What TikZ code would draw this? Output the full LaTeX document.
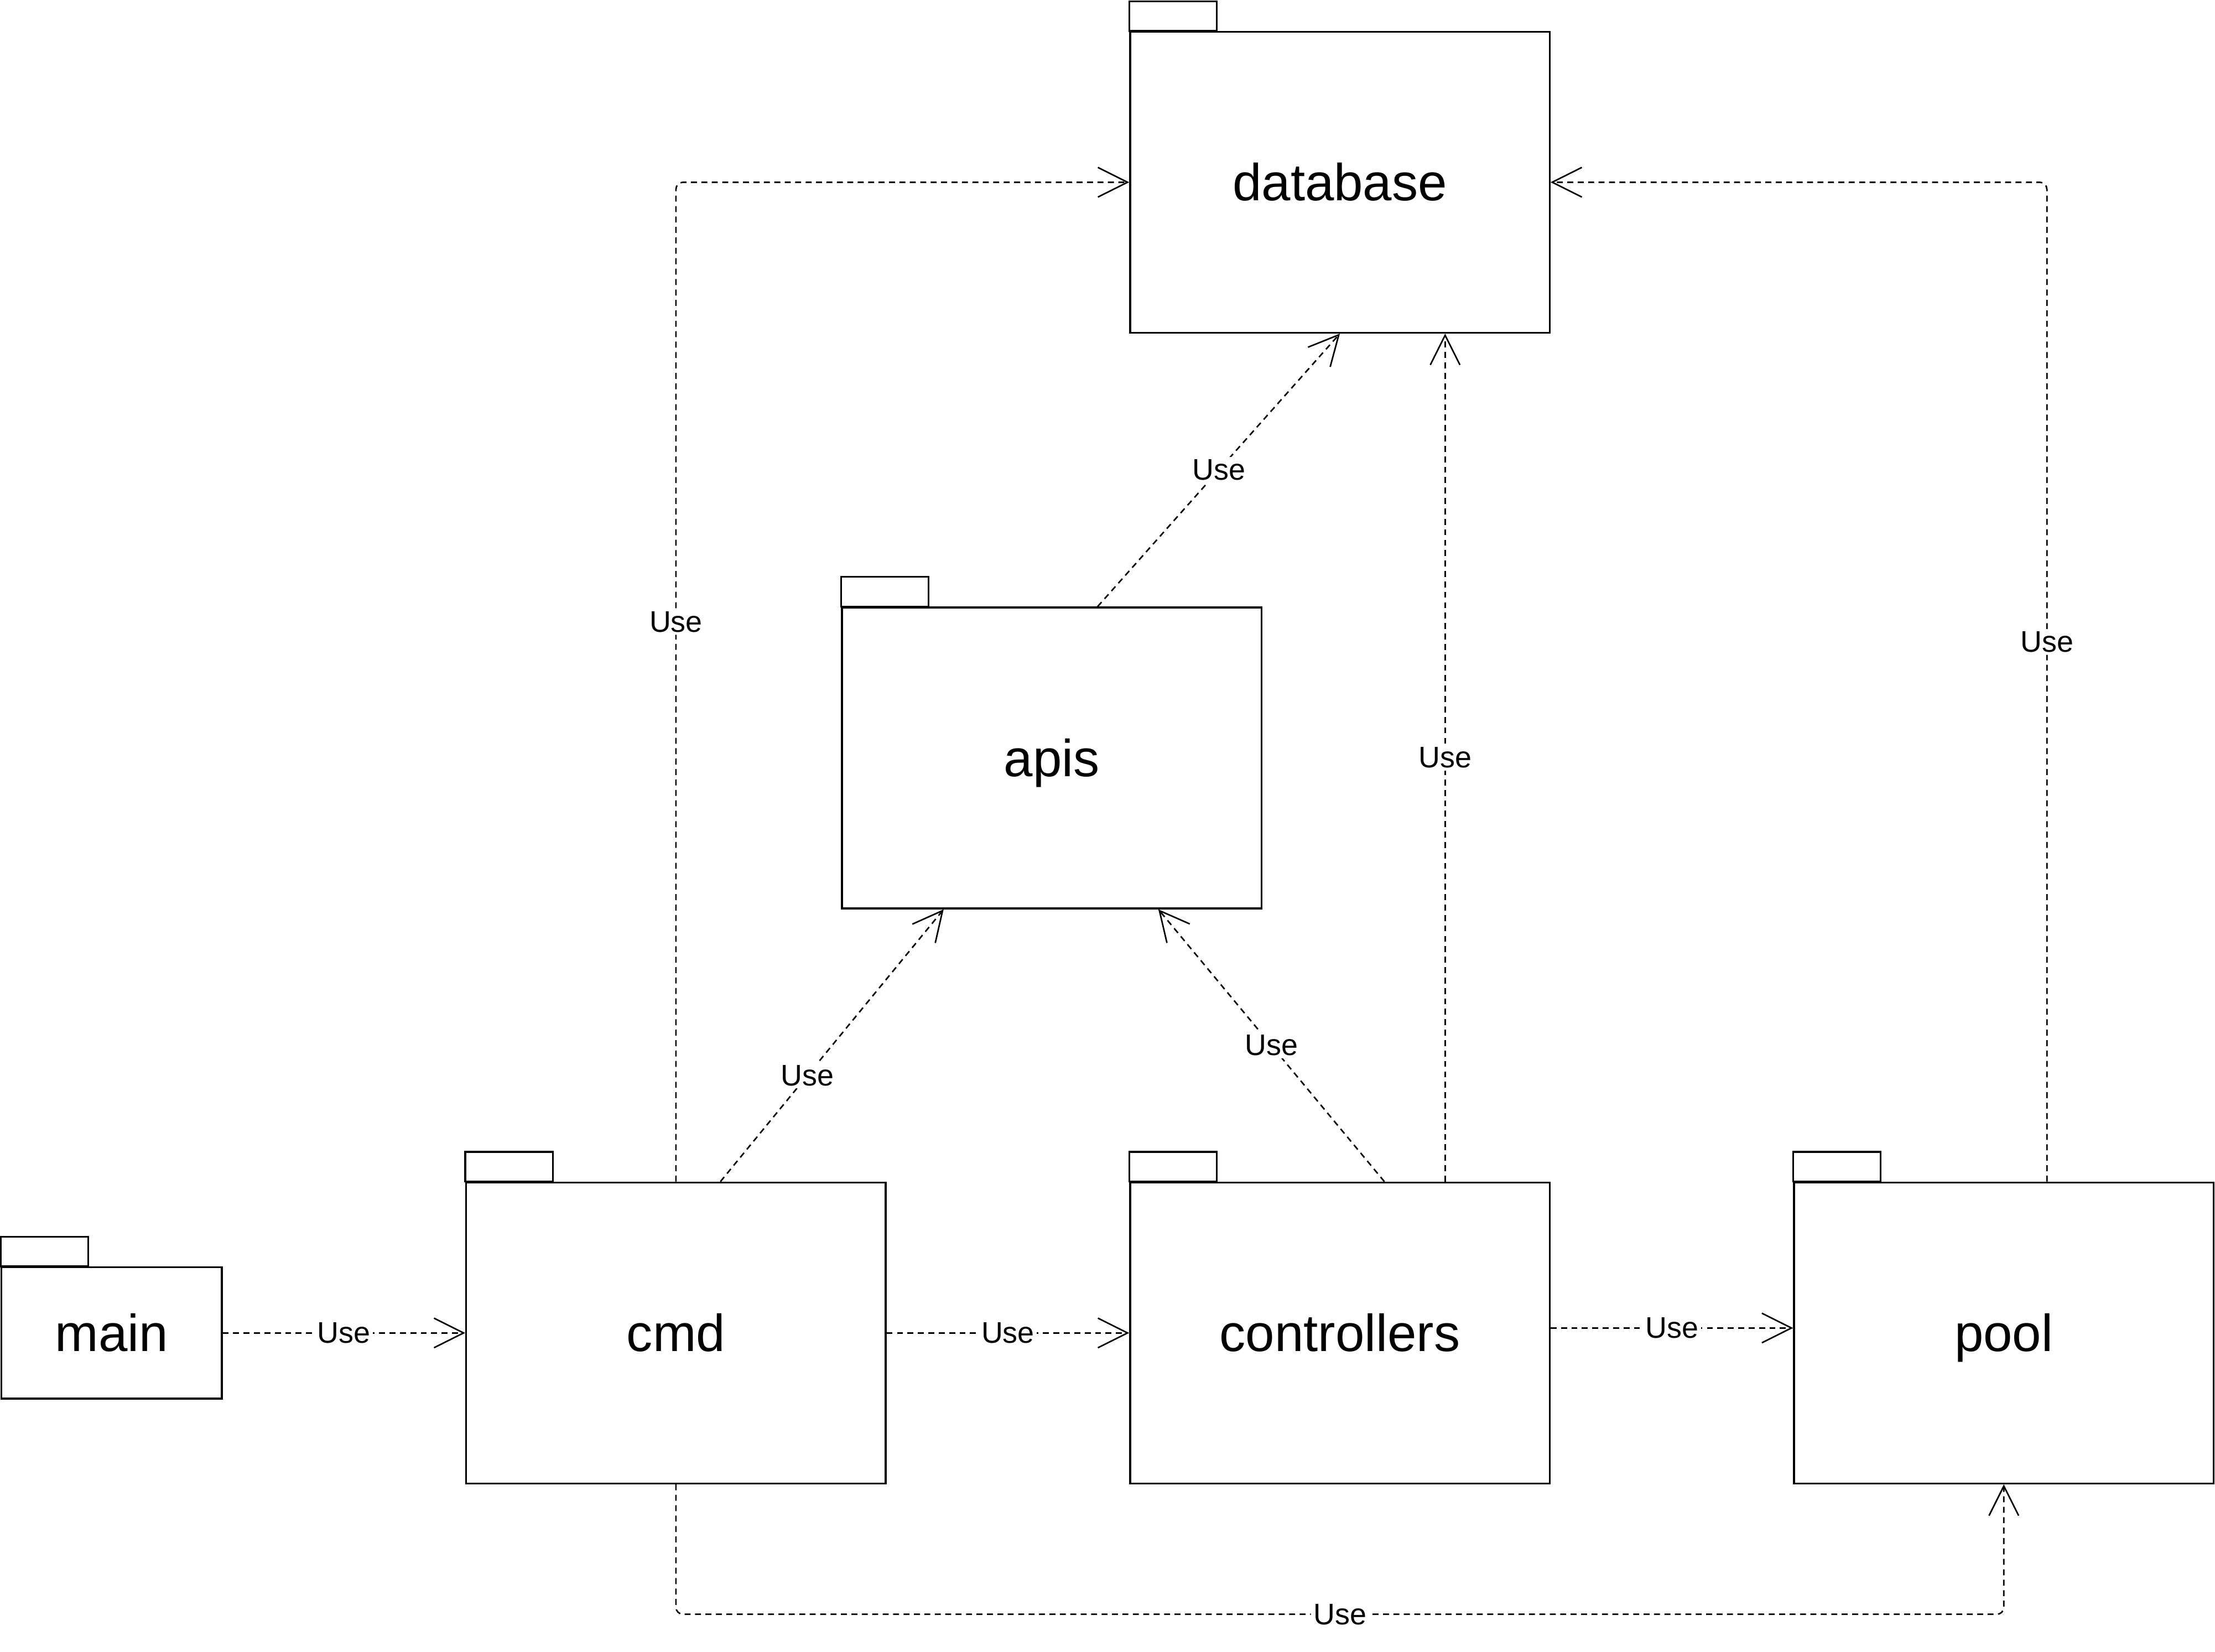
\documentclass[tikz,border=0pt]{standalone}
\usepackage{fontspec}
\setmainfont{Liberation Sans}
\usetikzlibrary{arrows.meta}

\begin{document}
\begin{tikzpicture}[x=.02cm, y=-.02cm,
    pkg/.style={draw, line width=.75pt, minimum width=5.94cm, minimum height=4.26cm,
        inner sep=0pt, text height=.7cm, text depth=.18cm, font=\fontsize{21}{25}\selectfont},
    smallpkg/.style={pkg, minimum width=3.12cm, minimum height=1.86cm},
    tabbox/.style={draw, line width=.75pt},
    usearrow/.style={dash pattern=on 2.4pt off 1.8pt, line width=.6pt,
        -{Straight Barb[length=.42cm, width=.42cm]}},
    lbl/.style={fill=white, inner sep=1pt, font=\fontsize{12}{14}\selectfont}
        ]

    \useasboundingbox (0,0) rectangle (1568,1169);

    % packages
    \node [pkg] (db) at (948.5,129) {database};
    \node [pkg] (apis) at (744.5,536.5) {apis};
    \node [smallpkg] (main) at (79,943.5) {main};
    \node [pkg] (cmd) at (478.5,943.5) {cmd};
    \node [pkg] (ctrl) at (948.5,943.5) {controllers};
    \node [pkg] (pool) at (1418.5,943.5) {pool};

    % tabs
    \draw [tabbox] (db.north west) rectangle ++(62,-21);
    \draw [tabbox] (apis.north west) rectangle ++(62,-21);
    \draw [tabbox] (main.north west) rectangle ++(62,-21);
    \draw [tabbox] (cmd.north west) rectangle ++(62,-21);
    \draw [tabbox] (ctrl.north west) rectangle ++(62,-21);
    \draw [tabbox] (pool.north west) rectangle ++(62,-21);

    % dependencies
    \draw [usearrow] (main) -- node [lbl] {Use} (cmd);
    \draw [usearrow] (cmd) -- node [lbl] {Use} (ctrl);
    \draw [usearrow] ([yshift=.07cm]ctrl.east) -- node [lbl] {Use} ([yshift=.07cm]pool.west);

    \draw [usearrow] ([xshift=.63cm]cmd.north) -- node [lbl, pos=.39] {Use} ([xshift=-1.53cm]apis.south);
    \draw [usearrow] ([xshift=.63cm]ctrl.north) -- node [lbl] {Use} ([xshift=1.51cm]apis.south);
    \draw [usearrow] ([xshift=.65cm]apis.north) -- node [lbl] {Use} (db.south);
    \draw [usearrow] ([xshift=1.49cm]ctrl.north) -- node [lbl] {Use} ([xshift=1.49cm]db.south);

    \draw [usearrow, rounded corners=.1cm] (cmd.north) |- node [lbl, pos=.28] {Use} (db.west);
    \draw [usearrow, rounded corners=.1cm] ([xshift=.61cm]pool.north) |- node [lbl, pos=.27] {Use} (db.east);
    \draw [usearrow, rounded corners=.1cm] (cmd.south) -- ++(0,92) -| node [lbl, pos=.25] {Use} (pool.south);

\end{tikzpicture}
\end{document}
